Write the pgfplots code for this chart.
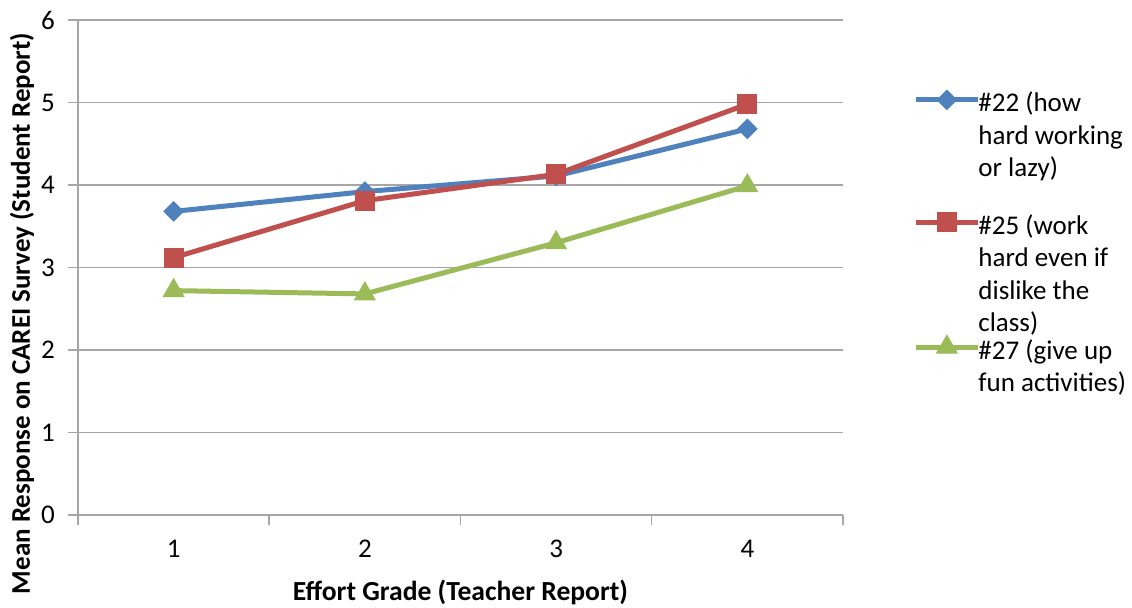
\documentclass[border=0pt]{standalone}
\usepackage{fontspec}
\setmainfont{Carlito}
\usepackage{pgfplots}
\pgfplotsset{compat=1.18}
\definecolor{sblue}{HTML}{4F81BD}
\definecolor{sred}{HTML}{C0504D}
\definecolor{sgreen}{HTML}{9BBB59}
\definecolor{gridc}{HTML}{A6A6A6}
\newcommand{\lent}[1]{\smash{\fontsize{13.5pt}{16.25pt}\selectfont\renewcommand{\arraystretch}{1}\begin{tabular}[t]{@{}l@{}}#1\end{tabular}}}
\begin{document}
\begin{tikzpicture}[font=\fontsize{13.5pt}{16.25pt}\selectfont]
\useasboundingbox (-39pt,-46pt) rectangle (527pt,257.5pt);
\begin{axis}[
  scale only axis, width=382.5pt, height=247.5pt,
  xmin=0.5, xmax=4.5, ymin=0, ymax=6,
  axis x line*=bottom, axis y line*=left,
  axis line style={gridc, line width=0.75pt},
  tick align=outside, major tick length=5pt,
  tick style={gridc, line width=0.75pt},
  xtick={0.5,1.5,2.5,3.5,4.5}, xticklabels={},
  extra x ticks={1,2,3,4}, extra x tick labels={1,2,3,4},
  extra x tick style={major tick length=0pt, xticklabel style={yshift=-9pt}},
  ytick={0,1,2,3,4,5,6},
  yticklabel style={xshift=-3pt},
  ymajorgrids, major grid style={gridc, line width=0.75pt},
  /pgf/number format/assume math mode=true,
  ticklabel style={text=black},
  xlabel={\fontsize{13.8pt}{16pt}\selectfont\bfseries Effort Grade (Teacher Report)},
  ylabel={\fontsize{13.5pt}{16pt}\selectfont\bfseries Mean Response on CAREI Survey (Student Report)},
  xlabel style={at={(axis description cs:0.5,-0.1556)}, anchor=center},
  ylabel style={at={(axis description cs:-0.0732,0.407)}, anchor=center},
  clip=false,
  legend style={draw=none, fill=none, at={(axis description cs:1.0915,0.859)}, anchor=north west, inner sep=0pt, row sep=47pt, column sep=-3pt, cells={anchor=base west}},
  legend image code/.code={\draw[mark repeat=2, mark phase=2, #1] plot coordinates {(0pt,6pt)(15.5pt,6pt)(31pt,6pt)};},
]
\addplot[sblue, line width=2.5pt, mark=square*, mark size=3.4pt, mark options={rotate=45, solid, line width=0.5pt}] coordinates {(1,3.68)(2,3.92)(3,4.11)(4,4.68)};
\addlegendentry{\lent{\#22 (how\\hard working\\or lazy)}}
\addplot[sred, line width=2.5pt, mark=square*, mark size=4.75pt, mark options={solid, line width=0.5pt}] coordinates {(1,3.12)(2,3.81)(3,4.13)(4,4.98)};
\addlegendentry{\lent{\#25 (work\\hard even if\\dislike the\\class)}}
\addplot[sgreen, line width=2.5pt, mark=triangle*, mark size=5.9pt, mark options={solid, line width=0.5pt}] coordinates {(1,2.72)(2,2.68)(3,3.30)(4,3.99)};
\addlegendentry{\lent{\#27 (give up\\fun activities)}}
\end{axis}
\end{tikzpicture}
\end{document}
